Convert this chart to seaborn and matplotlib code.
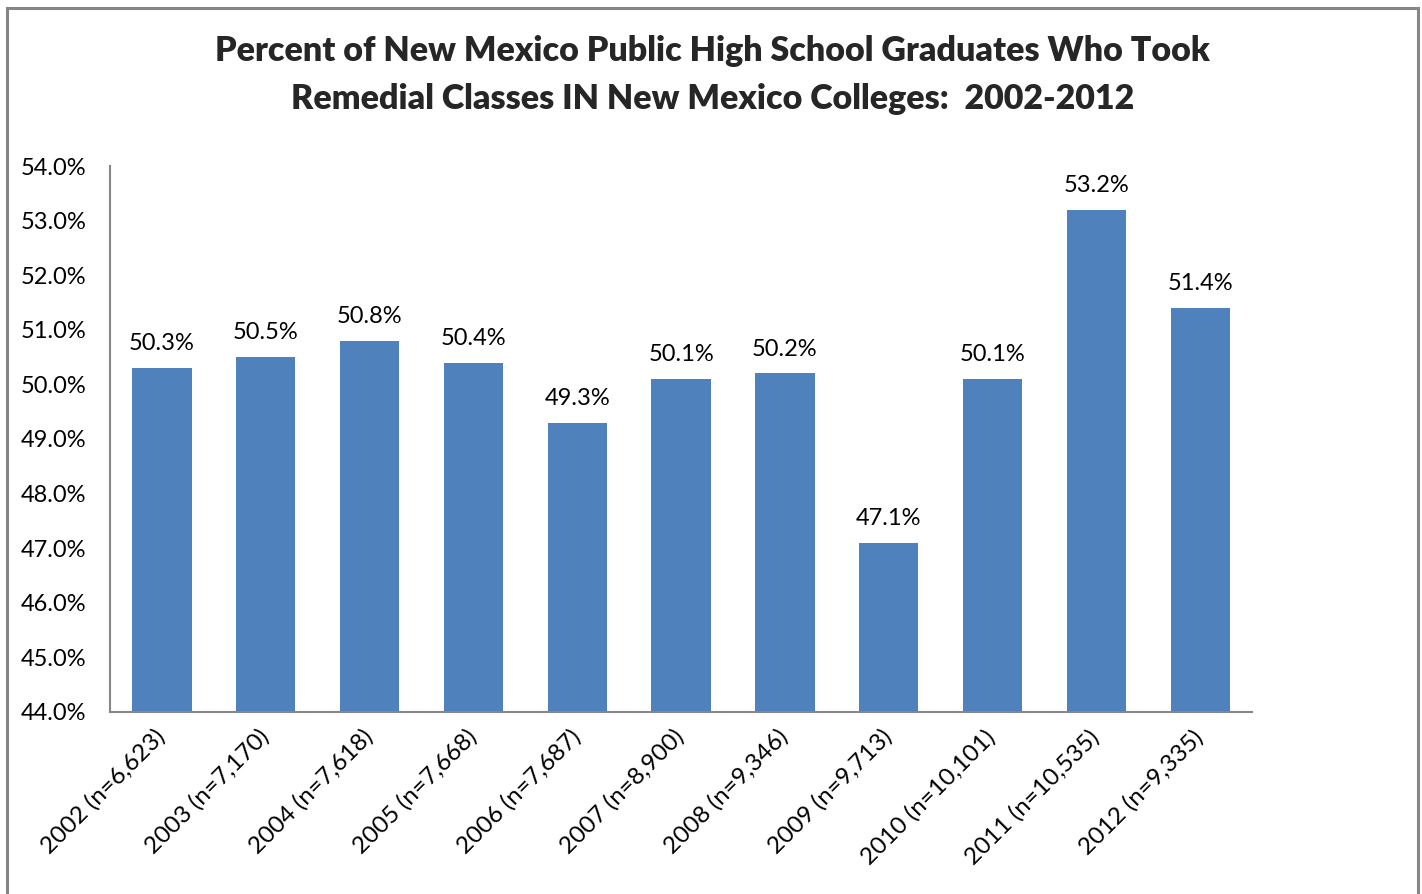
import matplotlib
matplotlib.use("Agg")
import matplotlib.pyplot as plt
import matplotlib.transforms as mtransforms
import seaborn as sns
import pandas as pd
from matplotlib.patches import Rectangle
from matplotlib.ticker import FuncFormatter, MultipleLocator

years = ["2002", "2003", "2004", "2005", "2006", "2007", "2008", "2009", "2010", "2011", "2012"]
counts = ["6,623", "7,170", "7,618", "7,668", "7,687", "8,900", "9,346", "9,713", "10,101", "10,535", "9,335"]
percent_remedial = [50.3, 50.5, 50.8, 50.4, 49.3, 50.1, 50.2, 47.1, 50.1, 53.2, 51.4]

labels = [f"{y} (n={c})" for y, c in zip(years, counts)]
df = pd.DataFrame({"label": labels, "pct": percent_remedial})

sns.set_theme(style="white")
plt.rcParams["font.family"] = ["Lato", "DejaVu Sans"]

fig = plt.figure(figsize=(14.22, 8.94), dpi=100)
ax = fig.add_axes([0.0774, 0.2036, 0.8031, 0.6107])

bar_color = "#4F81BD"
sns.barplot(data=df, x="label", y="pct", color=bar_color, width=0.571,
            saturation=1, ax=ax, edgecolor="none")

ax.set_ylim(44, 54)
ax.yaxis.set_major_locator(MultipleLocator(1))
ax.yaxis.set_major_formatter(FuncFormatter(lambda v, p: f"{v:.1f}%"))
ax.set_xlim(-0.5, len(labels) - 0.5)
ax.set_xlabel("")
ax.set_ylabel("")

for s in ["top", "right"]:
    ax.spines[s].set_visible(False)
for s in ["left", "bottom"]:
    ax.spines[s].set_color("#868686")
    ax.spines[s].set_linewidth(1.5)

ax.tick_params(axis="y", labelsize=17, length=0, pad=17, colors="black")
ax.tick_params(axis="x", labelsize=17.5, length=0, pad=10, colors="black")
shift = mtransforms.ScaledTranslation(-8 / 100, 0, fig.dpi_scale_trans)
for lbl in ax.get_xticklabels():
    lbl.set_rotation(45)
    lbl.set_ha("right")
    lbl.set_rotation_mode("anchor")
    lbl.set_transform(lbl.get_transform() + shift)

for i, v in enumerate(percent_remedial):
    ax.text(i, v + 0.25, f"{v:.1f}%", ha="center", va="bottom", fontsize=17, color="black")

fig.suptitle("Percent of New Mexico Public High School Graduates Who Took\n"
             "Remedial Classes IN New Mexico Colleges:  2002-2012",
             x=0.501, y=1 - 75 / 894, va="center", fontsize=24.5,
             fontweight="heavy", linespacing=1.6)

# outer frame of the chart
fig.patches.append(Rectangle((7 / 1422, -0.02), (1418 - 7) / 1422, 1 - 8 / 894 + 0.02,
                             transform=fig.transFigure, fill=False,
                             edgecolor="#868686", linewidth=2.2))

fig.savefig("out.png", dpi=100)
